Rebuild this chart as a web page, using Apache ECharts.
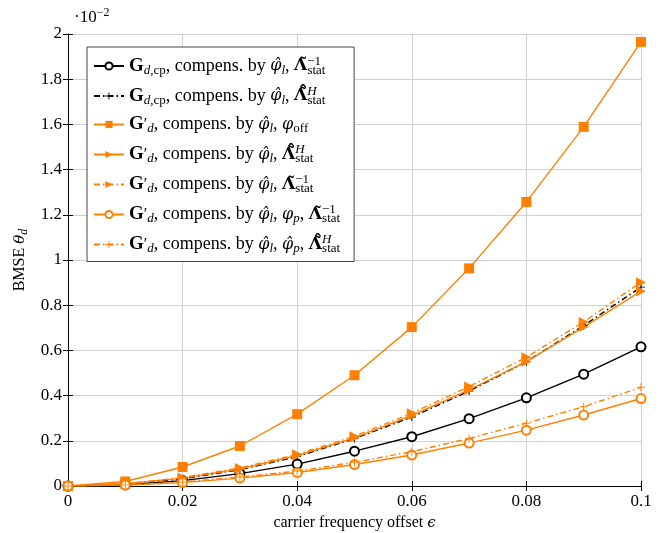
<!DOCTYPE html>
<html><head><meta charset="utf-8">
<script src="https://cdn.jsdelivr.net/npm/echarts@6/dist/echarts.min.js"></script>
<style>html,body{margin:0;padding:0;background:#fff}#c{width:672px;height:533px}</style>
</head><body><div id="c"></div>
<script>
const eps = [0, 0.01, 0.02, 0.03, 0.04, 0.05, 0.06, 0.07, 0.08, 0.09, 0.1];
const xTicks = [0, 0.02, 0.04, 0.06, 0.08, 0.1];
const yTicks = [0, 0.2, 0.4, 0.6, 0.8, 1, 1.2, 1.4, 1.6, 1.8, 2];
// values in units of 10^-2
const gcpInv   = [0, 0.005, 0.024, 0.055, 0.097, 0.154, 0.218, 0.298, 0.39, 0.495, 0.616];
const gcpH     = [0, 0.008, 0.032, 0.072, 0.13, 0.21, 0.305, 0.42, 0.55, 0.71, 0.88];
const gdOff    = [0, 0.02, 0.084, 0.177, 0.318, 0.49, 0.703, 0.963, 1.257, 1.589, 1.965];
const gdH      = [0, 0.01, 0.035, 0.075, 0.135, 0.213, 0.312, 0.425, 0.55, 0.703, 0.862];
const gdInv    = [0, 0.01, 0.037, 0.08, 0.14, 0.22, 0.322, 0.44, 0.57, 0.726, 0.902];
const gdPInv   = [0, 0.004, 0.015, 0.035, 0.06, 0.095, 0.137, 0.19, 0.247, 0.314, 0.387];
const gdPH     = [0, 0.005, 0.018, 0.04, 0.066, 0.105, 0.152, 0.21, 0.278, 0.351, 0.437];

const ORANGE = '#ff8000';
const SERIF = "'Liberation Serif','DejaVu Serif',serif";
const MATH = "'DejaVu Serif','Liberation Serif',serif";
const names = ['gcpInv','gcpH','gdOff','gdH','gdInv','gdPInv','gdPH'];
const head1 = '{G|G}{si|d}{s|,cp}{t|, compens. by }{m|φ̂}{si|l}{t|, }';
const head2 = '{G|G}{pr|′}{si|d}{t|, compens. by }{m|φ̂}{si|l}{t|, }';
const LInv = '{L|Λ̃}{pl|−1}{s|stat}';
const LH = '{L|Λ̃̂}{pi|H}{s|stat}';
const labels = {
  gcpInv: head1 + LInv,
  gcpH: head1 + LH,
  gdOff: head2 + '{m|φ}{s|off}',
  gdH: head2 + LH,
  gdInv: head2 + LInv,
  gdPInv: head2 + '{m|φ}{si|p}{t|, }' + LInv,
  gdPH: head2 + '{m|φ̂}{si|p}{t|, }' + LH
};
const plusPath = 'path://M4.4,0h1.2v4.4h4.4v1.2h-4.4v4.4h-1.2v-4.4h-4.4v-1.2h4.4z';
const dashDot = [6, 3, 1.5, 3];

function mk(name, data, color, symbol, size, type, rot) {
  return {
    name, type: 'line', data: eps.map((e, i) => [e, data[i]]),
    symbol, symbolSize: size, symbolRotate: rot || 0,
    showAllSymbol: true,
    lineStyle: { color, width: 1.4, type },
    itemStyle: { color, borderColor: color, borderWidth: symbol === 'emptyCircle' ? 1.4 : 0 },
    emphasis: { disabled: true },
    z: 3
  };
}
const series = [
  mk('gcpInv', gcpInv, '#000', 'emptyCircle', 9, 'solid'),
  mk('gcpH', gcpH, '#000', plusPath, 8, dashDot),
  mk('gdOff', gdOff, ORANGE, 'rect', 10, 'solid'),
  mk('gdH', gdH, ORANGE, 'triangle', 10, 'solid', -90),
  mk('gdInv', gdInv, ORANGE, 'triangle', 10, dashDot, -90),
  mk('gdPInv', gdPInv, ORANGE, 'emptyCircle', 9, 'solid'),
  mk('gdPH', gdPH, ORANGE, plusPath, 8, dashDot)
];

const FS = 18, SS = 13;
const base = { fontFamily: SERIF, fontSize: FS, color: '#000', lineHeight: 22 };
const small = { fontFamily: SERIF, fontSize: SS, color: '#000', lineHeight: 11 };
const rich = {
  G: Object.assign({}, base, { fontWeight: 'bold', fontSize: FS + 1 }),
  t: base,
  m: Object.assign({}, base, { fontFamily: MATH, fontStyle: 'italic', fontSize: FS - 2 }),
  L: Object.assign({}, base, { fontFamily: MATH, fontWeight: 'bold', fontSize: FS - 1 }),
  pr: Object.assign({}, base, { fontSize: FS - 2 }),
  s: Object.assign({}, small, { verticalAlign: 'bottom' }),
  si: Object.assign({}, small, { verticalAlign: 'bottom', fontStyle: 'italic' }),
  pl: Object.assign({}, small, { verticalAlign: 'top', width: 0.1 }),
  pi: Object.assign({}, small, { verticalAlign: 'top', fontStyle: 'italic', width: 0.1 })
};

const chart = echarts.init(document.getElementById('c'), null, { renderer: 'canvas' });
const axisLine = { show: true, lineStyle: { color: '#000', width: 1 } };
chart.setOption({
  animation: false,
  backgroundColor: '#fff',
  grid: { left: 68, right: 31, top: 34, bottom: 47, containLabel: false, outerBoundsMode: 'none' },
  xAxis: [{
    type: 'value', min: xTicks[0], max: xTicks[xTicks.length - 1], interval: 0.02,
    axisLine, axisTick: { inside: true, length: 5, lineStyle: { color: '#000' } },
    axisLabel: { fontFamily: SERIF, fontSize: 17, color: '#000', margin: 7,
      formatter: v => String(+v.toFixed(2)) },
    splitLine: { show: true, lineStyle: { color: '#d0d0d0', width: 1 } },
    name: 'carrier frequency offset {i|ϵ}', nameLocation: 'middle', nameGap: 28,
    nameTextStyle: { fontFamily: SERIF, fontSize: 16, color: '#000',
      rich: { i: { fontFamily: MATH, fontSize: 15, fontStyle: 'italic', color: '#000' } } }
  }, {
    type: 'value', position: 'top', min: 0, max: 0.1, interval: 0.02,
    axisLine, axisTick: { inside: true, length: 5, lineStyle: { color: '#000' } },
    axisLabel: { show: false }, splitLine: { show: false }
  }],
  yAxis: [{
    type: 'value', min: yTicks[0], max: yTicks[yTicks.length - 1], interval: 0.2,
    axisLine, axisTick: { inside: true, length: 5, lineStyle: { color: '#000' } },
    axisLabel: { fontFamily: SERIF, fontSize: 17, color: '#000', margin: 6,
      formatter: v => String(+v.toFixed(1)) },
    splitLine: { show: true, lineStyle: { color: '#d0d0d0', width: 1 } },
    name: 'BMSE {i|θ}{s|d}', nameLocation: 'middle', nameGap: 36, nameRotate: 90,
    nameTextStyle: { fontFamily: SERIF, fontSize: 16, color: '#000', lineHeight: 20,
      rich: { i: { fontFamily: MATH, fontSize: 15, fontStyle: 'italic', color: '#000', lineHeight: 20 },
              s: { fontFamily: SERIF, fontSize: 12, fontStyle: 'italic', color: '#000', lineHeight: 10, verticalAlign: 'bottom' } } }
  }, {
    type: 'value', position: 'right', min: 0, max: 2, interval: 0.2,
    axisLine, axisTick: { inside: true, length: 5, lineStyle: { color: '#000' } },
    axisLabel: { show: false }, splitLine: { show: false }
  }],
  legend: {
    orient: 'vertical', left: 87, top: 47,
    backgroundColor: '#fff', borderColor: '#444', borderWidth: 1, borderRadius: 0,
    padding: [8, 14, 6, 6], itemWidth: 30, itemHeight: 9, itemGap: 8,
    data: names,
    formatter: n => labels[n],
    textStyle: { fontFamily: SERIF, fontSize: FS, color: '#000', rich }
  },
  graphic: [{
    type: 'text', left: 74, top: 7,
    style: { text: '{t|·10}{p|−2}', rich: {
      t: { fontFamily: SERIF, fontSize: 17, color: '#000', lineHeight: 22 },
      p: { fontFamily: SERIF, fontSize: 12, color: '#000', lineHeight: 12, verticalAlign: 'top' } } }
  }],
  series
});
</script></body></html>
